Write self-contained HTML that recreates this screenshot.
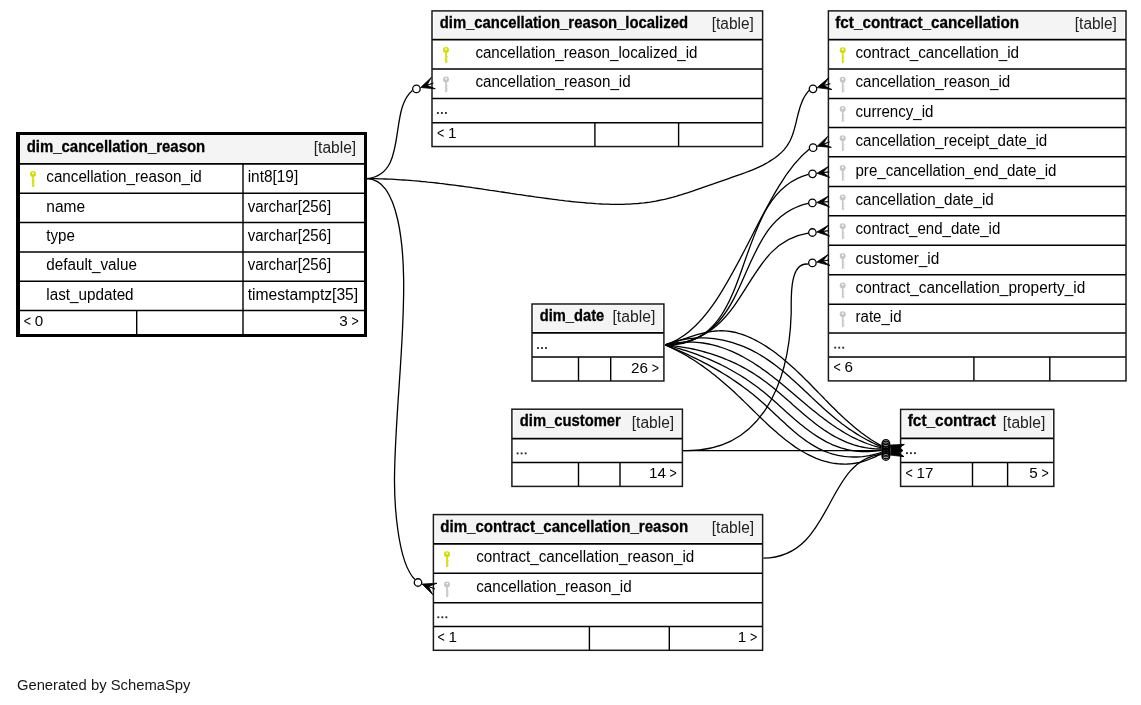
<!DOCTYPE html>
<html><head><meta charset="utf-8"><style>
html,body{margin:0;padding:0;background:#fff;width:1141px;height:705px;overflow:hidden}
svg{display:block;font-family:"Liberation Sans",sans-serif;will-change:transform}
</style></head><body>
<svg width="1141" height="705" viewBox="0 0 1141 705">
<rect x="16" y="132" width="351.00" height="205.00" fill="#fff"/>
<rect x="20" y="135" width="344.00" height="27.90" fill="#f4f4f4"/>
<line x1="16.00" y1="163.80" x2="367.00" y2="163.80" stroke="#000" stroke-width="1.7"/>
<line x1="16.00" y1="193.20" x2="367.00" y2="193.20" stroke="#000" stroke-width="1.5"/>
<line x1="16.00" y1="222.50" x2="367.00" y2="222.50" stroke="#000" stroke-width="1.5"/>
<line x1="16.00" y1="251.90" x2="367.00" y2="251.90" stroke="#000" stroke-width="1.5"/>
<line x1="16.00" y1="281.30" x2="367.00" y2="281.30" stroke="#000" stroke-width="1.5"/>
<line x1="16.00" y1="310.60" x2="367.00" y2="310.60" stroke="#000" stroke-width="1.5"/>
<line x1="136.70" y1="310.60" x2="136.70" y2="337.00" stroke="#000" stroke-width="1.4"/>
<line x1="243.00" y1="310.60" x2="243.00" y2="337.00" stroke="#000" stroke-width="1.4"/>
<line x1="243.00" y1="163.80" x2="243.00" y2="310.60" stroke="#000" stroke-width="1.4"/>
<rect x="17.5" y="133.5" width="348.00" height="202.00" fill="none" stroke="#000" stroke-width="3"/>
<line x1="19.50" y1="132.00" x2="19.50" y2="337.00" stroke="#000" stroke-width="1"/>
<text x="26.7" y="151.7" font-size="16.0" font-weight="bold" stroke="#000" stroke-width="0.3" text-anchor="start" fill="#000" textLength="178.5" lengthAdjust="spacingAndGlyphs">dim_cancellation_reason</text>
<text x="313.8" y="153.2" font-size="16.0" text-anchor="start" fill="#222" textLength="42.4" lengthAdjust="spacingAndGlyphs">[table]</text>
<g fill="#d3dd00"><circle cx="33.0" cy="174.1" r="3.0"/><rect x="32.15" y="176.10" width="1.7" height="10.8"/><rect x="33.80" y="180.10" width="1.0" height="0.9"/><rect x="33.80" y="182.40" width="1.0" height="0.9"/><rect x="33.80" y="184.70" width="1.0" height="0.9"/></g><circle cx="33.0" cy="173.30" r="0.95" fill="#fff"/>
<text x="46.3" y="181.7" font-size="16.0" text-anchor="start" fill="#000" textLength="155.5" lengthAdjust="spacingAndGlyphs">cancellation_reason_id</text>
<text x="247.7" y="181.7" font-size="16.0" text-anchor="start" fill="#000" textLength="50.5" lengthAdjust="spacingAndGlyphs">int8[19]</text>
<text x="46.3" y="211.8" font-size="16.0" text-anchor="start" fill="#000" textLength="38.8" lengthAdjust="spacingAndGlyphs">name</text>
<text x="247.7" y="211.8" font-size="16.0" text-anchor="start" fill="#000" textLength="83.4" lengthAdjust="spacingAndGlyphs">varchar[256]</text>
<text x="46.3" y="241.2" font-size="16.0" text-anchor="start" fill="#000" textLength="28.6" lengthAdjust="spacingAndGlyphs">type</text>
<text x="247.7" y="241.2" font-size="16.0" text-anchor="start" fill="#000" textLength="83.4" lengthAdjust="spacingAndGlyphs">varchar[256]</text>
<text x="46.3" y="269.8" font-size="16.0" text-anchor="start" fill="#000" textLength="90.6" lengthAdjust="spacingAndGlyphs">default_value</text>
<text x="247.7" y="269.8" font-size="16.0" text-anchor="start" fill="#000" textLength="83.4" lengthAdjust="spacingAndGlyphs">varchar[256]</text>
<text x="46.3" y="299.9" font-size="16.0" text-anchor="start" fill="#000" textLength="87.3" lengthAdjust="spacingAndGlyphs">last_updated</text>
<text x="247.7" y="299.9" font-size="16.0" text-anchor="start" fill="#000" textLength="110.5" lengthAdjust="spacingAndGlyphs">timestamptz[35]</text>
<text x="23.8" y="325.7" font-size="15.2" text-anchor="start" fill="#000" textLength="7.3" lengthAdjust="spacingAndGlyphs">&lt;</text>
<text x="34.8" y="325.7" font-size="15.2" text-anchor="start" fill="#000">0</text>
<text x="351.4" y="325.7" font-size="15.2" text-anchor="start" fill="#000" textLength="7.3" lengthAdjust="spacingAndGlyphs">&gt;</text>
<text x="347.7" y="325.7" font-size="15.2" text-anchor="end" fill="#000">3</text>
<rect x="432" y="10.9" width="330.60" height="135.65" fill="#fff"/>
<rect x="433.90" y="12.20" width="326.80" height="25.60" fill="#f4f4f4"/>
<line x1="432.00" y1="39.70" x2="762.60" y2="39.70" stroke="#000" stroke-width="1.7"/>
<line x1="432.00" y1="68.90" x2="762.60" y2="68.90" stroke="#000" stroke-width="1.5"/>
<line x1="432.00" y1="98.40" x2="762.60" y2="98.40" stroke="#000" stroke-width="1.5"/>
<line x1="432.00" y1="122.70" x2="762.60" y2="122.70" stroke="#000" stroke-width="1.5"/>
<line x1="594.90" y1="122.70" x2="594.90" y2="146.55" stroke="#000" stroke-width="1.4"/>
<line x1="678.60" y1="122.70" x2="678.60" y2="146.55" stroke="#000" stroke-width="1.4"/>
<rect x="432.00" y="10.90" width="330.60" height="135.65" fill="none" stroke="#1a1a1a" stroke-width="1.5"/>
<text x="439.7" y="27.8" font-size="16.0" font-weight="bold" stroke="#000" stroke-width="0.3" text-anchor="start" fill="#000" textLength="248.3" lengthAdjust="spacingAndGlyphs">dim_cancellation_reason_localized</text>
<text x="711.8" y="29.0" font-size="16.0" text-anchor="start" fill="#222" textLength="42.0" lengthAdjust="spacingAndGlyphs">[table]</text>
<g fill="#d3dd00"><circle cx="446" cy="50.1" r="3.0"/><rect x="445.15" y="52.10" width="1.7" height="10.8"/><rect x="446.80" y="56.10" width="1.0" height="0.9"/><rect x="446.80" y="58.40" width="1.0" height="0.9"/><rect x="446.80" y="60.70" width="1.0" height="0.9"/></g><circle cx="446" cy="49.30" r="0.95" fill="#fff"/>
<text x="475.4" y="57.7" font-size="16.0" text-anchor="start" fill="#000" textLength="222.1" lengthAdjust="spacingAndGlyphs">cancellation_reason_localized_id</text>
<g fill="#c6c6c6"><circle cx="446" cy="79.5" r="3.0"/><rect x="445.15" y="81.50" width="1.7" height="10.8"/><rect x="446.80" y="85.50" width="1.0" height="0.9"/><rect x="446.80" y="87.80" width="1.0" height="0.9"/><rect x="446.80" y="90.10" width="1.0" height="0.9"/></g><circle cx="446" cy="78.70" r="0.95" fill="#fff"/>
<text x="475.4" y="87.1" font-size="16.0" text-anchor="start" fill="#000" textLength="155.3" lengthAdjust="spacingAndGlyphs">cancellation_reason_id</text>
<rect x="436.95" y="112.05" width="1.85" height="1.85" fill="#262626"/>
<rect x="440.95" y="112.05" width="1.85" height="1.85" fill="#262626"/>
<rect x="444.95" y="112.05" width="1.85" height="1.85" fill="#262626"/>
<text x="436.9" y="137.9" font-size="15.2" text-anchor="start" fill="#000" textLength="7.3" lengthAdjust="spacingAndGlyphs">&lt;</text>
<text x="447.9" y="137.9" font-size="15.2" text-anchor="start" fill="#000">1</text>
<rect x="828.4" y="10.9" width="297.60" height="370.00" fill="#fff"/>
<rect x="830.30" y="12.20" width="293.80" height="25.50" fill="#f4f4f4"/>
<line x1="828.40" y1="39.60" x2="1126.00" y2="39.60" stroke="#000" stroke-width="1.7"/>
<line x1="828.40" y1="68.90" x2="1126.00" y2="68.90" stroke="#000" stroke-width="1.5"/>
<line x1="828.40" y1="98.60" x2="1126.00" y2="98.60" stroke="#000" stroke-width="1.5"/>
<line x1="828.40" y1="127.60" x2="1126.00" y2="127.60" stroke="#000" stroke-width="1.5"/>
<line x1="828.40" y1="156.80" x2="1126.00" y2="156.80" stroke="#000" stroke-width="1.5"/>
<line x1="828.40" y1="186.40" x2="1126.00" y2="186.40" stroke="#000" stroke-width="1.5"/>
<line x1="828.40" y1="215.70" x2="1126.00" y2="215.70" stroke="#000" stroke-width="1.5"/>
<line x1="828.40" y1="245.20" x2="1126.00" y2="245.20" stroke="#000" stroke-width="1.5"/>
<line x1="828.40" y1="274.70" x2="1126.00" y2="274.70" stroke="#000" stroke-width="1.5"/>
<line x1="828.40" y1="304.20" x2="1126.00" y2="304.20" stroke="#000" stroke-width="1.5"/>
<line x1="828.40" y1="332.90" x2="1126.00" y2="332.90" stroke="#000" stroke-width="1.5"/>
<line x1="828.40" y1="356.90" x2="1126.00" y2="356.90" stroke="#000" stroke-width="1.5"/>
<line x1="973.90" y1="356.90" x2="973.90" y2="380.90" stroke="#000" stroke-width="1.4"/>
<line x1="1049.80" y1="356.90" x2="1049.80" y2="380.90" stroke="#000" stroke-width="1.4"/>
<rect x="828.40" y="10.90" width="297.60" height="370.00" fill="none" stroke="#1a1a1a" stroke-width="1.5"/>
<text x="835.3" y="28.1" font-size="16.0" font-weight="bold" stroke="#000" stroke-width="0.3" text-anchor="start" fill="#000" textLength="183.8" lengthAdjust="spacingAndGlyphs">fct_contract_cancellation</text>
<text x="1074.8" y="29.2" font-size="16.0" text-anchor="start" fill="#222" textLength="42.1" lengthAdjust="spacingAndGlyphs">[table]</text>
<g fill="#d3dd00"><circle cx="842.7" cy="50.3" r="3.0"/><rect x="841.85" y="52.30" width="1.7" height="10.8"/><rect x="843.50" y="56.30" width="1.0" height="0.9"/><rect x="843.50" y="58.60" width="1.0" height="0.9"/><rect x="843.50" y="60.90" width="1.0" height="0.9"/></g><circle cx="842.7" cy="49.50" r="0.95" fill="#fff"/>
<text x="855.5" y="57.8" font-size="16.0" text-anchor="start" fill="#000" textLength="163.6" lengthAdjust="spacingAndGlyphs">contract_cancellation_id</text>
<g fill="#c6c6c6"><circle cx="842.7" cy="79.7" r="3.0"/><rect x="841.85" y="81.70" width="1.7" height="10.8"/><rect x="843.50" y="85.70" width="1.0" height="0.9"/><rect x="843.50" y="88.00" width="1.0" height="0.9"/><rect x="843.50" y="90.30" width="1.0" height="0.9"/></g><circle cx="842.7" cy="78.90" r="0.95" fill="#fff"/>
<text x="855.5" y="87.2" font-size="16.0" text-anchor="start" fill="#000" textLength="154.7" lengthAdjust="spacingAndGlyphs">cancellation_reason_id</text>
<g fill="#c6c6c6"><circle cx="842.7" cy="109.1" r="3.0"/><rect x="841.85" y="111.10" width="1.7" height="10.8"/><rect x="843.50" y="115.10" width="1.0" height="0.9"/><rect x="843.50" y="117.40" width="1.0" height="0.9"/><rect x="843.50" y="119.70" width="1.0" height="0.9"/></g><circle cx="842.7" cy="108.30" r="0.95" fill="#fff"/>
<text x="855.5" y="116.6" font-size="16.0" text-anchor="start" fill="#000" textLength="77.9" lengthAdjust="spacingAndGlyphs">currency_id</text>
<g fill="#c6c6c6"><circle cx="842.7" cy="138.2" r="3.0"/><rect x="841.85" y="140.20" width="1.7" height="10.8"/><rect x="843.50" y="144.20" width="1.0" height="0.9"/><rect x="843.50" y="146.50" width="1.0" height="0.9"/><rect x="843.50" y="148.80" width="1.0" height="0.9"/></g><circle cx="842.7" cy="137.40" r="0.95" fill="#fff"/>
<text x="855.5" y="145.7" font-size="16.0" text-anchor="start" fill="#000" textLength="191.7" lengthAdjust="spacingAndGlyphs">cancellation_receipt_date_id</text>
<g fill="#c6c6c6"><circle cx="842.7" cy="168.0" r="3.0"/><rect x="841.85" y="170.00" width="1.7" height="10.8"/><rect x="843.50" y="174.00" width="1.0" height="0.9"/><rect x="843.50" y="176.30" width="1.0" height="0.9"/><rect x="843.50" y="178.60" width="1.0" height="0.9"/></g><circle cx="842.7" cy="167.20" r="0.95" fill="#fff"/>
<text x="855.5" y="175.5" font-size="16.0" text-anchor="start" fill="#000" textLength="200.9" lengthAdjust="spacingAndGlyphs">pre_cancellation_end_date_id</text>
<g fill="#c6c6c6"><circle cx="842.7" cy="197.4" r="3.0"/><rect x="841.85" y="199.40" width="1.7" height="10.8"/><rect x="843.50" y="203.40" width="1.0" height="0.9"/><rect x="843.50" y="205.70" width="1.0" height="0.9"/><rect x="843.50" y="208.00" width="1.0" height="0.9"/></g><circle cx="842.7" cy="196.60" r="0.95" fill="#fff"/>
<text x="855.5" y="204.9" font-size="16.0" text-anchor="start" fill="#000" textLength="138.3" lengthAdjust="spacingAndGlyphs">cancellation_date_id</text>
<g fill="#c6c6c6"><circle cx="842.7" cy="226.3" r="3.0"/><rect x="841.85" y="228.30" width="1.7" height="10.8"/><rect x="843.50" y="232.30" width="1.0" height="0.9"/><rect x="843.50" y="234.60" width="1.0" height="0.9"/><rect x="843.50" y="236.90" width="1.0" height="0.9"/></g><circle cx="842.7" cy="225.50" r="0.95" fill="#fff"/>
<text x="855.5" y="233.8" font-size="16.0" text-anchor="start" fill="#000" textLength="144.8" lengthAdjust="spacingAndGlyphs">contract_end_date_id</text>
<g fill="#c6c6c6"><circle cx="842.7" cy="256.1" r="3.0"/><rect x="841.85" y="258.10" width="1.7" height="10.8"/><rect x="843.50" y="262.10" width="1.0" height="0.9"/><rect x="843.50" y="264.40" width="1.0" height="0.9"/><rect x="843.50" y="266.70" width="1.0" height="0.9"/></g><circle cx="842.7" cy="255.30" r="0.95" fill="#fff"/>
<text x="855.5" y="263.6" font-size="16.0" text-anchor="start" fill="#000" textLength="83.8" lengthAdjust="spacingAndGlyphs">customer_id</text>
<g fill="#c6c6c6"><circle cx="842.7" cy="285.4" r="3.0"/><rect x="841.85" y="287.40" width="1.7" height="10.8"/><rect x="843.50" y="291.40" width="1.0" height="0.9"/><rect x="843.50" y="293.70" width="1.0" height="0.9"/><rect x="843.50" y="296.00" width="1.0" height="0.9"/></g><circle cx="842.7" cy="284.60" r="0.95" fill="#fff"/>
<text x="855.5" y="292.9" font-size="16.0" text-anchor="start" fill="#000" textLength="229.8" lengthAdjust="spacingAndGlyphs">contract_cancellation_property_id</text>
<g fill="#c6c6c6"><circle cx="842.7" cy="314.3" r="3.0"/><rect x="841.85" y="316.30" width="1.7" height="10.8"/><rect x="843.50" y="320.30" width="1.0" height="0.9"/><rect x="843.50" y="322.60" width="1.0" height="0.9"/><rect x="843.50" y="324.90" width="1.0" height="0.9"/></g><circle cx="842.7" cy="313.50" r="0.95" fill="#fff"/>
<text x="855.5" y="321.8" font-size="16.0" text-anchor="start" fill="#000" textLength="46.0" lengthAdjust="spacingAndGlyphs">rate_id</text>
<rect x="834.30" y="346.75" width="1.85" height="1.85" fill="#262626"/>
<rect x="838.30" y="346.75" width="1.85" height="1.85" fill="#262626"/>
<rect x="842.30" y="346.75" width="1.85" height="1.85" fill="#262626"/>
<text x="833.4" y="372.4" font-size="15.2" text-anchor="start" fill="#000" textLength="7.3" lengthAdjust="spacingAndGlyphs">&lt;</text>
<text x="844.4" y="372.4" font-size="15.2" text-anchor="start" fill="#000">6</text>
<rect x="532" y="304" width="131.90" height="77.00" fill="#fff"/>
<rect x="533.90" y="305.30" width="128.10" height="25.70" fill="#f4f4f4"/>
<line x1="532.00" y1="332.90" x2="663.90" y2="332.90" stroke="#000" stroke-width="1.7"/>
<line x1="532.00" y1="357.10" x2="663.90" y2="357.10" stroke="#000" stroke-width="1.5"/>
<line x1="578.50" y1="357.10" x2="578.50" y2="381.00" stroke="#000" stroke-width="1.4"/>
<line x1="610.70" y1="357.10" x2="610.70" y2="381.00" stroke="#000" stroke-width="1.4"/>
<rect x="532.00" y="304.00" width="131.90" height="77.00" fill="none" stroke="#1a1a1a" stroke-width="1.5"/>
<text x="539.8" y="321.0" font-size="16.0" font-weight="bold" stroke="#000" stroke-width="0.3" text-anchor="start" fill="#000" textLength="64.4" lengthAdjust="spacingAndGlyphs">dim_date</text>
<text x="612.5" y="322.1" font-size="16.0" text-anchor="start" fill="#222" textLength="42.9" lengthAdjust="spacingAndGlyphs">[table]</text>
<rect x="537.05" y="347.10" width="1.85" height="1.85" fill="#262626"/>
<rect x="541.05" y="347.10" width="1.85" height="1.85" fill="#262626"/>
<rect x="545.05" y="347.10" width="1.85" height="1.85" fill="#262626"/>
<text x="651.7" y="372.8" font-size="15.2" text-anchor="start" fill="#000" textLength="7.3" lengthAdjust="spacingAndGlyphs">&gt;</text>
<text x="648.0" y="372.8" font-size="15.2" text-anchor="end" fill="#000">26</text>
<rect x="511.9" y="409.2" width="170.50" height="77.20" fill="#fff"/>
<rect x="513.80" y="410.50" width="166.70" height="26.20" fill="#f4f4f4"/>
<line x1="511.90" y1="438.60" x2="682.40" y2="438.60" stroke="#000" stroke-width="1.7"/>
<line x1="511.90" y1="462.60" x2="682.40" y2="462.60" stroke="#000" stroke-width="1.5"/>
<line x1="578.50" y1="462.60" x2="578.50" y2="486.40" stroke="#000" stroke-width="1.4"/>
<line x1="620.00" y1="462.60" x2="620.00" y2="486.40" stroke="#000" stroke-width="1.4"/>
<rect x="511.90" y="409.20" width="170.50" height="77.20" fill="none" stroke="#1a1a1a" stroke-width="1.5"/>
<text x="519.8" y="425.5" font-size="16.0" font-weight="bold" stroke="#000" stroke-width="0.3" text-anchor="start" fill="#000" textLength="101.0" lengthAdjust="spacingAndGlyphs">dim_customer</text>
<text x="631.8" y="427.5" font-size="16.0" text-anchor="start" fill="#222" textLength="42.3" lengthAdjust="spacingAndGlyphs">[table]</text>
<rect x="516.70" y="452.45" width="1.85" height="1.85" fill="#262626"/>
<rect x="520.70" y="452.45" width="1.85" height="1.85" fill="#262626"/>
<rect x="524.70" y="452.45" width="1.85" height="1.85" fill="#262626"/>
<text x="669.6" y="477.9" font-size="15.2" text-anchor="start" fill="#000" textLength="7.3" lengthAdjust="spacingAndGlyphs">&gt;</text>
<text x="665.9" y="477.9" font-size="15.2" text-anchor="end" fill="#000">14</text>
<rect x="900.6" y="409.4" width="153.20" height="77.00" fill="#fff"/>
<rect x="902.50" y="410.70" width="149.40" height="25.80" fill="#f4f4f4"/>
<line x1="900.60" y1="438.40" x2="1053.80" y2="438.40" stroke="#000" stroke-width="1.7"/>
<line x1="900.60" y1="462.40" x2="1053.80" y2="462.40" stroke="#000" stroke-width="1.5"/>
<line x1="972.50" y1="462.40" x2="972.50" y2="486.40" stroke="#000" stroke-width="1.4"/>
<line x1="1007.60" y1="462.40" x2="1007.60" y2="486.40" stroke="#000" stroke-width="1.4"/>
<rect x="900.60" y="409.40" width="153.20" height="77.00" fill="none" stroke="#1a1a1a" stroke-width="1.5"/>
<text x="907.7" y="425.9" font-size="16.0" font-weight="bold" stroke="#000" stroke-width="0.3" text-anchor="start" fill="#000" textLength="88.2" lengthAdjust="spacingAndGlyphs">fct_contract</text>
<text x="1002.7" y="427.8" font-size="16.0" text-anchor="start" fill="#222" textLength="42.6" lengthAdjust="spacingAndGlyphs">[table]</text>
<rect x="906.00" y="452.25" width="1.85" height="1.85" fill="#262626"/>
<rect x="910.00" y="452.25" width="1.85" height="1.85" fill="#262626"/>
<rect x="914.00" y="452.25" width="1.85" height="1.85" fill="#262626"/>
<text x="905.6" y="477.7" font-size="15.2" text-anchor="start" fill="#000" textLength="7.3" lengthAdjust="spacingAndGlyphs">&lt;</text>
<text x="916.6" y="477.7" font-size="15.2" text-anchor="start" fill="#000">17</text>
<text x="1041.5" y="477.7" font-size="15.2" text-anchor="start" fill="#000" textLength="7.3" lengthAdjust="spacingAndGlyphs">&gt;</text>
<text x="1037.8" y="477.7" font-size="15.2" text-anchor="end" fill="#000">5</text>
<rect x="433.4" y="514.6" width="329.20" height="135.70" fill="#fff"/>
<rect x="435.30" y="515.90" width="325.40" height="26.00" fill="#f4f4f4"/>
<line x1="433.40" y1="543.80" x2="762.60" y2="543.80" stroke="#000" stroke-width="1.7"/>
<line x1="433.40" y1="573.20" x2="762.60" y2="573.20" stroke="#000" stroke-width="1.5"/>
<line x1="433.40" y1="602.70" x2="762.60" y2="602.70" stroke="#000" stroke-width="1.5"/>
<line x1="433.40" y1="626.40" x2="762.60" y2="626.40" stroke="#000" stroke-width="1.5"/>
<line x1="589.40" y1="626.40" x2="589.40" y2="650.30" stroke="#000" stroke-width="1.4"/>
<line x1="669.30" y1="626.40" x2="669.30" y2="650.30" stroke="#000" stroke-width="1.4"/>
<rect x="433.40" y="514.60" width="329.20" height="135.70" fill="none" stroke="#1a1a1a" stroke-width="1.5"/>
<text x="440.3" y="532.0" font-size="16.0" font-weight="bold" stroke="#000" stroke-width="0.3" text-anchor="start" fill="#000" textLength="247.9" lengthAdjust="spacingAndGlyphs">dim_contract_cancellation_reason</text>
<text x="711.8" y="533.2" font-size="16.0" text-anchor="start" fill="#222" textLength="42.3" lengthAdjust="spacingAndGlyphs">[table]</text>
<g fill="#d3dd00"><circle cx="447" cy="554.2" r="3.0"/><rect x="446.15" y="556.20" width="1.7" height="10.8"/><rect x="447.80" y="560.20" width="1.0" height="0.9"/><rect x="447.80" y="562.50" width="1.0" height="0.9"/><rect x="447.80" y="564.80" width="1.0" height="0.9"/></g><circle cx="447" cy="553.40" r="0.95" fill="#fff"/>
<text x="476.2" y="561.8" font-size="16.0" text-anchor="start" fill="#000" textLength="218.1" lengthAdjust="spacingAndGlyphs">contract_cancellation_reason_id</text>
<g fill="#c6c6c6"><circle cx="447" cy="584.4" r="3.0"/><rect x="446.15" y="586.40" width="1.7" height="10.8"/><rect x="447.80" y="590.40" width="1.0" height="0.9"/><rect x="447.80" y="592.70" width="1.0" height="0.9"/><rect x="447.80" y="595.00" width="1.0" height="0.9"/></g><circle cx="447" cy="583.60" r="0.95" fill="#fff"/>
<text x="476.2" y="592.1" font-size="16.0" text-anchor="start" fill="#000" textLength="155.5" lengthAdjust="spacingAndGlyphs">cancellation_reason_id</text>
<rect x="437.40" y="616.35" width="1.85" height="1.85" fill="#262626"/>
<rect x="441.40" y="616.35" width="1.85" height="1.85" fill="#262626"/>
<rect x="445.40" y="616.35" width="1.85" height="1.85" fill="#262626"/>
<text x="437.4" y="641.9" font-size="15.2" text-anchor="start" fill="#000" textLength="7.3" lengthAdjust="spacingAndGlyphs">&lt;</text>
<text x="448.4" y="641.9" font-size="15.2" text-anchor="start" fill="#000">1</text>
<text x="749.9" y="641.9" font-size="15.2" text-anchor="start" fill="#000" textLength="7.3" lengthAdjust="spacingAndGlyphs">&gt;</text>
<text x="746.2" y="641.9" font-size="15.2" text-anchor="end" fill="#000">1</text>
<text x="16.9" y="689.9" font-size="15.2" text-anchor="start" fill="#161616" textLength="173.6" lengthAdjust="spacingAndGlyphs">Generated by SchemaSpy</text>
<path d="M367.0,178.6 C408.7,174.9 388.1,110.1 412.4,90.4" fill="none" stroke="#000" stroke-width="1.3"/>
<circle cx="416.4" cy="88.9" r="3.75" fill="none" stroke="#000" stroke-width="1.3"/>
<path d="M420.6,87.5 L431.3,77.4 L426.9,85.3 L433.3,83.1 L426.9,85.3 L435.3,88.8 Z" fill="#000" stroke="#000" stroke-width="0.8" stroke-linejoin="miter"/>
<path d="M367.0,178.6 L370.1,178.6 L373.1,178.7 L376.2,178.7 L379.2,178.8 L382.3,178.9 L385.3,179.0 L388.4,179.1 L391.4,179.2 L394.4,179.4 L397.5,179.6 L400.5,179.8 L403.5,180.0 L406.5,180.2 L409.5,180.4 L412.6,180.7 L415.6,180.9 L418.6,181.2 L421.6,181.5 L424.6,181.7 L427.6,182.1 L430.6,182.4 L433.6,182.7 L436.6,183.0 L439.6,183.4 L442.5,183.7 L445.5,184.1 L448.5,184.5 L451.5,184.8 L454.5,185.2 L457.5,185.6 L460.4,186.0 L463.4,186.4 L466.4,186.8 L469.4,187.2 L472.4,187.7 L475.3,188.1 L478.3,188.5 L481.3,188.9 L484.3,189.4 L487.3,189.8 L490.2,190.3 L493.2,190.7 L496.2,191.1 L499.2,191.6 L502.2,192.0 L505.2,192.5 L508.1,192.9 L511.1,193.4 L514.1,193.8 L517.1,194.3 L520.1,194.7 L523.1,195.1 L526.1,195.6 L529.1,196.0 L532.1,196.4 L535.1,196.9 L538.1,197.3 L541.1,197.7 L544.1,198.1 L547.2,198.5 L550.2,198.9 L553.2,199.3 L556.2,199.7 L559.3,200.1 L562.3,200.4 L565.3,200.8 L568.4,201.1 L571.4,201.5 L574.5,201.8 L577.5,202.1 L580.6,202.4 L583.7,202.7 L586.7,203.0 L589.8,203.2 L592.8,203.4 L595.9,203.7 L598.9,203.8 L602.0,204.0 L605.0,204.1 L608.1,204.2 L611.1,204.3 L614.2,204.4 L617.2,204.4 L620.2,204.4 L623.2,204.3 L626.2,204.2 L629.2,204.1 L632.2,203.9 L635.2,203.7 L638.2,203.5 L641.2,203.2 L644.1,202.9 L647.1,202.5 L650.0,202.1 L653.0,201.6 L655.9,201.1 L658.8,200.5 L661.7,199.9 L664.6,199.3 L667.4,198.6 L670.3,197.8 L673.2,197.1 L676.0,196.3 L678.9,195.4 L681.7,194.6 L684.6,193.7 L687.4,192.8 L690.3,191.8 L693.2,190.9 L696.0,189.9 L698.9,188.9 L701.7,187.9 L704.6,186.9 L707.5,185.9 L710.4,184.9 L713.3,183.9 L716.2,182.8 L719.1,181.8 L722.0,180.8 L725.0,179.8 L727.9,178.8 L730.9,177.7 L733.9,176.7 L736.8,175.7 L739.8,174.7 L742.7,173.6 L745.7,172.5 L748.6,171.4 L751.4,170.3 L754.3,169.1 L757.1,167.9 L759.9,166.6 L762.6,165.3 L765.2,163.9 L767.8,162.5 L770.3,160.9 L772.8,159.3 L775.1,157.7 L777.4,155.9 L779.6,154.1 L781.7,152.1 L783.7,150.1 L785.5,147.9 L787.2,145.6 L788.7,143.2 L790.1,140.7 L791.3,138.0 L792.4,135.3 L793.3,132.5 L794.2,129.6 L795.0,126.6 L795.8,123.6 L796.5,120.6 L797.2,117.6 L798.0,114.5 L798.8,111.5 L799.6,108.6 L800.5,105.7 L801.6,102.9 L802.7,100.1 L804.0,97.5 L805.5,95.0 L807.2,92.6 L809.1,90.4" fill="none" stroke="#000" stroke-width="1.3"/>
<circle cx="813.0" cy="88.8" r="3.75" fill="none" stroke="#000" stroke-width="1.3"/>
<path d="M817.2,87.6 L828.6,77.8 L823.8,85.6 L830.3,83.7 L823.8,85.6 L832.0,89.6 Z" fill="#000" stroke="#000" stroke-width="0.8" stroke-linejoin="miter"/>
<path d="M367.0,178.6 C400.5,179.1 403.2,254.9 403.6,277.3 C404.9,340.3 395.2,411.3 394.5,477.5 C394.3,500.0 396.9,561.6 414.9,579.5" fill="none" stroke="#000" stroke-width="1.3"/>
<circle cx="418.0" cy="582.5" r="3.75" fill="none" stroke="#000" stroke-width="1.3"/>
<path d="M422.1,584.1 L437.0,583.2 L428.5,586.5 L434.8,588.9 L428.5,586.5 L432.6,594.6 Z" fill="#000" stroke="#000" stroke-width="0.8" stroke-linejoin="miter"/>
<path d="M665.2,344.9 C729.7,326.1 757.9,189.4 809.2,149.3" fill="none" stroke="#000" stroke-width="1.3"/>
<circle cx="813.1" cy="147.7" r="3.75" fill="none" stroke="#000" stroke-width="1.3"/>
<path d="M817.2,146.2 L827.6,136.4 L823.4,144.1 L829.5,141.9 L823.4,144.1 L831.4,147.4 Z" fill="#000" stroke="#000" stroke-width="0.8" stroke-linejoin="miter"/>
<path d="M665.2,344.9 C758.9,348.4 728.9,195.6 808.3,174.4" fill="none" stroke="#000" stroke-width="1.3"/>
<circle cx="812.5" cy="173.8" r="3.75" fill="none" stroke="#000" stroke-width="1.3"/>
<path d="M816.9,173.3 L828.5,166.4 L823.0,172.6 L829.1,171.9 L823.0,172.6 L829.7,177.4 Z" fill="#000" stroke="#000" stroke-width="0.8" stroke-linejoin="miter"/>
<path d="M665.2,344.9 C758.3,342.8 731.3,220.8 808.1,203.4" fill="none" stroke="#000" stroke-width="1.3"/>
<circle cx="812.4" cy="202.9" r="3.75" fill="none" stroke="#000" stroke-width="1.3"/>
<path d="M816.8,202.5 L828.5,196.0 L822.9,202.0 L829.0,201.5 L822.9,202.0 L829.5,207.0 Z" fill="#000" stroke="#000" stroke-width="0.8" stroke-linejoin="miter"/>
<path d="M665.2,344.9 C751.7,341.2 740.2,243.9 808.1,233.1" fill="none" stroke="#000" stroke-width="1.3"/>
<circle cx="812.4" cy="232.5" r="3.75" fill="none" stroke="#000" stroke-width="1.3"/>
<path d="M816.8,232.0 L828.4,225.2 L822.9,231.4 L829.0,230.7 L822.9,231.4 L829.6,236.2 Z" fill="#000" stroke="#000" stroke-width="0.8" stroke-linejoin="miter"/>
<path d="M683.0,450.6 C762.8,453.4 789.2,380.8 791.2,313.2 C791.5,301.7 788.3,261.6 808.3,264.1" fill="none" stroke="#000" stroke-width="1.3"/>
<circle cx="812.4" cy="262.9" r="3.75" fill="none" stroke="#000" stroke-width="1.3"/>
<path d="M816.7,262.1 L828.0,254.5 L822.9,261.1 L829.0,260.0 L822.9,261.1 L830.0,265.5 Z" fill="#000" stroke="#000" stroke-width="0.8" stroke-linejoin="miter"/>
<path d="M665.2,344.9 L667.9,344.2 L670.6,343.4 L673.4,342.5 L676.2,341.6 L679.1,340.6 L682.0,339.6 L684.9,338.6 L687.9,337.6 L690.9,336.6 L694.0,335.6 L697.0,334.7 L700.1,333.9 L703.1,333.1 L706.2,332.4 L709.3,331.8 L712.4,331.3 L715.4,331.0 L718.5,330.8 L721.5,330.7 L724.5,330.8 L727.5,331.1 L730.4,331.5 L733.3,332.0 L736.3,332.7 L739.1,333.5 L742.0,334.4 L744.8,335.4 L747.6,336.5 L750.3,337.7 L753.1,339.0 L755.8,340.4 L758.4,341.8 L761.0,343.3 L763.6,344.8 L766.2,346.4 L768.7,348.1 L771.2,349.8 L773.7,351.5 L776.1,353.3 L778.5,355.2 L780.9,357.0 L783.2,358.9 L785.5,360.9 L787.9,362.9 L790.1,364.9 L792.4,366.9 L794.7,369.0 L796.9,371.1 L799.1,373.2 L801.3,375.3 L803.5,377.5 L805.7,379.7 L807.9,381.8 L810.1,384.0 L812.2,386.3 L814.4,388.5 L816.6,390.7 L818.7,392.9 L820.9,395.1 L823.0,397.3 L825.2,399.6 L827.4,401.8 L829.5,404.0 L831.7,406.2 L833.9,408.3 L836.1,410.5 L838.3,412.7 L840.5,414.8 L842.8,416.9 L845.0,419.0 L847.3,421.0 L849.6,423.1 L851.9,425.0 L854.2,427.0 L856.6,428.9 L858.9,430.8 L861.3,432.7 L863.8,434.5 L866.2,436.3 L868.7,438.0 L871.2,439.7 L873.7,441.3 L876.3,442.8 L878.9,444.4 L881.6,445.8" fill="none" stroke="#000" stroke-width="1.3"/>
<path d="M665.2,344.9 L668.2,343.7 L671.3,342.7 L674.3,341.7 L677.4,340.9 L680.5,340.1 L683.5,339.5 L686.6,339.0 L689.7,338.6 L692.7,338.3 L695.8,338.0 L698.9,337.9 L701.9,337.9 L704.9,337.9 L708.0,338.1 L711.0,338.3 L714.0,338.7 L717.0,339.1 L720.0,339.6 L723.0,340.2 L725.9,340.8 L728.9,341.6 L731.8,342.4 L734.7,343.3 L737.5,344.3 L740.4,345.3 L743.2,346.4 L746.0,347.6 L748.8,348.9 L751.5,350.2 L754.2,351.6 L756.9,353.0 L759.5,354.5 L762.1,356.1 L764.7,357.7 L767.2,359.4 L769.7,361.1 L772.2,362.9 L774.7,364.7 L777.1,366.5 L779.5,368.4 L781.9,370.3 L784.3,372.3 L786.6,374.3 L788.9,376.3 L791.3,378.4 L793.6,380.4 L795.9,382.5 L798.1,384.6 L800.4,386.7 L802.7,388.8 L804.9,391.0 L807.2,393.1 L809.5,395.2 L811.7,397.4 L814.0,399.5 L816.2,401.6 L818.5,403.7 L820.8,405.8 L823.1,407.9 L825.4,410.0 L827.7,412.0 L830.0,414.0 L832.4,416.0 L834.7,418.0 L837.1,419.9 L839.5,421.8 L841.9,423.7 L844.4,425.5 L846.8,427.3 L849.3,429.1 L851.9,430.8 L854.4,432.4 L857.0,434.1 L859.6,435.7 L862.2,437.2 L864.9,438.7 L867.6,440.2 L870.3,441.6 L873.1,443.0 L875.9,444.4 L878.7,445.6 L881.6,446.9" fill="none" stroke="#000" stroke-width="1.3"/>
<path d="M665.2,344.9 L668.5,344.2 L671.8,343.6 L675.0,343.0 L678.2,342.6 L681.4,342.3 L684.5,342.2 L687.6,342.1 L690.7,342.1 L693.8,342.2 L696.8,342.4 L699.8,342.7 L702.8,343.0 L705.8,343.5 L708.7,344.0 L711.6,344.7 L714.5,345.4 L717.4,346.2 L720.2,347.0 L723.0,348.0 L725.8,349.0 L728.5,350.0 L731.3,351.2 L734.0,352.4 L736.7,353.6 L739.3,354.9 L742.0,356.3 L744.6,357.8 L747.2,359.2 L749.8,360.8 L752.4,362.3 L754.9,364.0 L757.4,365.6 L760.0,367.3 L762.4,369.1 L764.9,370.8 L767.4,372.6 L769.8,374.5 L772.2,376.3 L774.6,378.2 L777.0,380.1 L779.4,382.1 L781.8,384.0 L784.2,386.0 L786.6,388.0 L788.9,390.0 L791.3,392.0 L793.7,394.0 L796.0,396.0 L798.4,398.0 L800.7,400.0 L803.1,402.0 L805.5,404.0 L807.8,406.0 L810.2,407.9 L812.6,409.9 L815.0,411.8 L817.4,413.8 L819.8,415.7 L822.3,417.5 L824.7,419.4 L827.2,421.2 L829.6,423.0 L832.1,424.8 L834.7,426.5 L837.2,428.2 L839.8,429.8 L842.3,431.4 L844.9,433.0 L847.6,434.5 L850.2,436.0 L852.9,437.4 L855.6,438.7 L858.4,440.0 L861.2,441.2 L864.0,442.4 L866.8,443.5 L869.7,444.5 L872.6,445.5 L875.6,446.4 L878.6,447.2 L881.6,448.0" fill="none" stroke="#000" stroke-width="1.3"/>
<path d="M665.2,344.9 L668.3,345.2 L671.4,345.5 L674.5,345.9 L677.6,346.3 L680.7,346.8 L683.7,347.3 L686.7,347.8 L689.8,348.4 L692.8,349.0 L695.8,349.7 L698.8,350.4 L701.7,351.2 L704.7,352.0 L707.6,352.8 L710.5,353.7 L713.4,354.6 L716.3,355.6 L719.2,356.6 L722.0,357.7 L724.8,358.8 L727.6,360.0 L730.4,361.2 L733.2,362.4 L735.9,363.7 L738.6,365.0 L741.3,366.4 L744.0,367.9 L746.6,369.3 L749.2,370.9 L751.8,372.4 L754.4,374.0 L756.9,375.7 L759.5,377.4 L762.0,379.2 L764.4,381.0 L766.9,382.8 L769.3,384.7 L771.7,386.6 L774.1,388.5 L776.4,390.5 L778.8,392.5 L781.2,394.5 L783.5,396.5 L785.8,398.5 L788.1,400.6 L790.5,402.6 L792.8,404.7 L795.1,406.7 L797.4,408.8 L799.8,410.8 L802.1,412.8 L804.4,414.8 L806.8,416.8 L809.2,418.7 L811.5,420.6 L813.9,422.5 L816.4,424.4 L818.8,426.2 L821.3,428.0 L823.7,429.7 L826.3,431.4 L828.8,433.0 L831.4,434.6 L834.0,436.1 L836.6,437.5 L839.3,438.9 L842.0,440.2 L844.7,441.4 L847.5,442.6 L850.4,443.6 L853.2,444.6 L856.2,445.5 L859.2,446.3 L862.2,447.0 L865.3,447.6 L868.4,448.1 L871.6,448.5 L874.9,448.8 L878.2,449.0 L881.6,449.0" fill="none" stroke="#000" stroke-width="1.3"/>
<path d="M665.2,344.9 L668.2,345.6 L671.2,346.4 L674.2,347.2 L677.2,348.0 L680.1,348.9 L683.1,349.8 L686.0,350.7 L688.9,351.7 L691.8,352.6 L694.7,353.6 L697.5,354.7 L700.4,355.8 L703.2,356.9 L706.0,358.0 L708.8,359.2 L711.6,360.4 L714.3,361.6 L717.1,362.9 L719.8,364.1 L722.5,365.5 L725.2,366.8 L727.8,368.2 L730.5,369.7 L733.1,371.2 L735.7,372.7 L738.3,374.2 L740.9,375.8 L743.4,377.4 L746.0,379.0 L748.5,380.7 L751.0,382.5 L753.4,384.2 L755.9,386.0 L758.3,387.8 L760.7,389.7 L763.1,391.6 L765.5,393.6 L767.8,395.6 L770.2,397.6 L772.5,399.6 L774.8,401.6 L777.1,403.6 L779.4,405.7 L781.7,407.8 L784.0,409.8 L786.3,411.9 L788.6,413.9 L790.9,415.9 L793.2,418.0 L795.5,420.0 L797.9,421.9 L800.2,423.9 L802.6,425.8 L804.9,427.7 L807.3,429.5 L809.7,431.3 L812.1,433.0 L814.6,434.7 L817.1,436.4 L819.6,437.9 L822.1,439.4 L824.7,440.9 L827.3,442.3 L830.0,443.5 L832.6,444.8 L835.4,445.9 L838.1,446.9 L840.9,447.9 L843.8,448.7 L846.7,449.5 L849.6,450.1 L852.6,450.7 L855.6,451.1 L858.7,451.4 L861.8,451.6 L865.0,451.7 L868.2,451.6 L871.5,451.4 L874.8,451.1 L878.2,450.7 L881.6,450.1" fill="none" stroke="#000" stroke-width="1.3"/>
<path d="M665.2,344.9 L668.1,346.1 L670.9,347.3 L673.8,348.5 L676.6,349.7 L679.4,350.9 L682.2,352.1 L685.0,353.4 L687.8,354.7 L690.6,356.0 L693.3,357.3 L696.1,358.6 L698.8,360.0 L701.5,361.4 L704.2,362.8 L706.9,364.2 L709.6,365.6 L712.2,367.1 L714.9,368.6 L717.5,370.1 L720.1,371.6 L722.7,373.2 L725.3,374.8 L727.9,376.4 L730.4,378.0 L732.9,379.7 L735.4,381.4 L737.9,383.1 L740.4,384.9 L742.9,386.7 L745.3,388.5 L747.8,390.3 L750.2,392.2 L752.6,394.1 L754.9,396.0 L757.3,398.0 L759.6,400.0 L761.9,402.0 L764.2,404.1 L766.5,406.2 L768.8,408.3 L771.1,410.4 L773.3,412.5 L775.6,414.7 L777.9,416.8 L780.1,418.9 L782.4,421.0 L784.7,423.1 L786.9,425.2 L789.2,427.3 L791.5,429.3 L793.8,431.3 L796.2,433.2 L798.5,435.2 L800.9,437.0 L803.3,438.8 L805.7,440.6 L808.2,442.3 L810.7,443.9 L813.2,445.4 L815.8,446.9 L818.4,448.3 L821.0,449.6 L823.7,450.8 L826.5,451.9 L829.2,453.0 L832.1,453.9 L835.0,454.7 L837.9,455.4 L840.9,455.9 L844.0,456.4 L847.0,456.7 L850.1,456.9 L853.3,457.0 L856.4,457.0 L859.6,456.9 L862.8,456.6 L865.9,456.2 L869.1,455.7 L872.2,455.0 L875.4,454.2 L878.5,453.3 L881.6,452.3" fill="none" stroke="#000" stroke-width="1.3"/>
<path d="M665.2,344.9 L668.0,346.2 L670.9,347.4 L673.6,348.8 L676.4,350.2 L679.1,351.6 L681.8,353.0 L684.4,354.5 L687.1,356.0 L689.7,357.6 L692.3,359.2 L694.8,360.8 L697.4,362.5 L699.9,364.2 L702.4,365.9 L704.8,367.7 L707.3,369.5 L709.7,371.3 L712.1,373.2 L714.5,375.0 L716.9,377.0 L719.3,378.9 L721.6,380.9 L724.0,382.9 L726.3,384.9 L728.6,386.9 L730.9,389.0 L733.2,391.1 L735.5,393.2 L737.7,395.4 L740.0,397.5 L742.3,399.7 L744.5,401.9 L746.8,404.1 L749.0,406.3 L751.3,408.5 L753.5,410.7 L755.7,412.9 L758.0,415.1 L760.2,417.3 L762.5,419.5 L764.8,421.6 L767.0,423.8 L769.3,425.9 L771.6,428.0 L773.9,430.1 L776.3,432.1 L778.6,434.2 L780.9,436.1 L783.3,438.1 L785.7,440.0 L788.1,441.8 L790.5,443.6 L793.0,445.4 L795.4,447.1 L797.9,448.7 L800.5,450.3 L803.0,451.8 L805.6,453.3 L808.2,454.6 L810.8,455.9 L813.5,457.2 L816.2,458.3 L818.9,459.3 L821.6,460.3 L824.4,461.2 L827.2,461.9 L830.0,462.6 L832.8,463.1 L835.7,463.5 L838.6,463.9 L841.5,464.0 L844.4,464.1 L847.4,464.0 L850.4,463.8 L853.4,463.5 L856.4,463.0 L859.5,462.3 L862.6,461.5 L865.7,460.6 L868.8,459.5 L872.0,458.2 L875.2,456.8 L878.4,455.1 L881.6,453.3" fill="none" stroke="#000" stroke-width="1.3"/>
<path d="M683.5,450.6 L881.5,450.6" fill="none" stroke="#000" stroke-width="1.3"/>
<path d="M763.4,558.2 C834.2,557.1 824.0,459.6 881.8,454.4" fill="none" stroke="#000" stroke-width="1.3"/>
<circle cx="885.9" cy="443.3" r="3.75" fill="none" stroke="#000" stroke-width="1.3"/>
<path d="M890.0,445.0 L904.4,444.4 L896.1,447.4 L902.2,449.9 L896.1,447.4 L900.0,455.4 Z" fill="#000" stroke="#000" stroke-width="0.8" stroke-linejoin="miter"/>
<circle cx="885.9" cy="444.9" r="3.75" fill="none" stroke="#000" stroke-width="1.3"/>
<path d="M890.1,446.3 L903.9,444.6 L896.1,448.2 L902.2,450.0 L896.1,448.2 L900.5,455.5 Z" fill="#000" stroke="#000" stroke-width="0.8" stroke-linejoin="miter"/>
<circle cx="885.9" cy="446.6" r="3.75" fill="none" stroke="#000" stroke-width="1.3"/>
<path d="M890.2,447.5 L903.4,444.8 L896.2,448.9 L902.2,450.2 L896.2,448.9 L901.0,455.6 Z" fill="#000" stroke="#000" stroke-width="0.8" stroke-linejoin="miter"/>
<circle cx="885.9" cy="448.2" r="3.75" fill="none" stroke="#000" stroke-width="1.3"/>
<path d="M890.3,448.8 L902.9,445.0 L896.2,449.6 L902.2,450.3 L896.2,449.6 L901.5,455.7 Z" fill="#000" stroke="#000" stroke-width="0.8" stroke-linejoin="miter"/>
<circle cx="885.9" cy="449.9" r="3.75" fill="none" stroke="#000" stroke-width="1.3"/>
<path d="M890.3,450.1 L902.4,445.1 L896.2,450.3 L902.2,450.5 L896.2,450.3 L902.0,455.9 Z" fill="#000" stroke="#000" stroke-width="0.8" stroke-linejoin="miter"/>
<circle cx="885.9" cy="451.6" r="3.75" fill="none" stroke="#000" stroke-width="1.3"/>
<path d="M890.3,451.3 L901.9,445.3 L896.2,451.0 L902.2,450.6 L896.2,451.0 L902.5,456.0 Z" fill="#000" stroke="#000" stroke-width="0.8" stroke-linejoin="miter"/>
<circle cx="885.9" cy="453.2" r="3.75" fill="none" stroke="#000" stroke-width="1.3"/>
<path d="M890.3,452.6 L901.4,445.4 L896.2,451.7 L902.2,450.8 L896.2,451.7 L903.0,456.2 Z" fill="#000" stroke="#000" stroke-width="0.8" stroke-linejoin="miter"/>
<circle cx="885.9" cy="454.9" r="3.75" fill="none" stroke="#000" stroke-width="1.3"/>
<path d="M890.2,453.8 L900.9,445.5 L896.2,452.4 L902.2,450.9 L896.2,452.4 L903.5,456.4 Z" fill="#000" stroke="#000" stroke-width="0.8" stroke-linejoin="miter"/>
<circle cx="885.9" cy="456.5" r="3.75" fill="none" stroke="#000" stroke-width="1.3"/>
<path d="M890.1,455.1 L900.4,445.6 L896.1,453.1 L902.2,451.1 L896.1,453.1 L904.0,456.6 Z" fill="#000" stroke="#000" stroke-width="0.8" stroke-linejoin="miter"/>
</svg></body></html>
